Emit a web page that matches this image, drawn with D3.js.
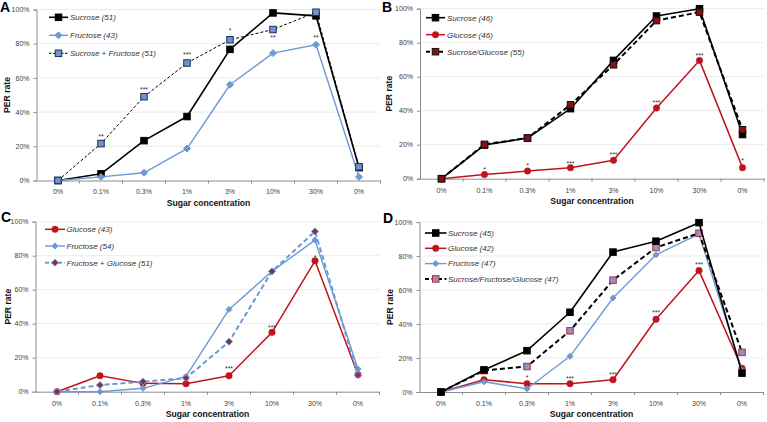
<!DOCTYPE html>
<html><head><meta charset="utf-8">
<script src="https://cdn.jsdelivr.net/npm/d3@7"></script>
<style>
body{margin:0;background:#fff;}
svg{display:block;font-family:Arial,"Liberation Sans",sans-serif;}
</style></head>
<body><svg id="c" width="767" height="422"></svg>
<script>
// ---------- data ----------
const categories = ["0%","0.1%","0.3%","1%","3%","10%","30%","0% "];
const yTicks = [0,20,40,60,80,100];

// Panel A
const A_sucrose  = [0,3.9,23.3,37.4,76.7,98,96.3,7.5];
const A_fructose = [0,2.1,4.5,18.7,56,74.5,79.4,2.1];
const A_sucFru   = [0,21.6,49,68.7,82.3,88.3,98.4,8];
const A_stars    = [["0.1%","**",26.5],["0.3%","***",54.3],["1%","***",74.7],["3%","*",88.7],["10%","**",84.4],["30%","**",84.4]];

// Panel B
const B_sucrose  = [0,19.8,23.9,41.2,69.6,95.7,100,26];
const B_glucose  = [0,2.4,4.5,6.5,10.8,41.6,69.6,6.5];
const B_sucGlu   = [0,20.2,23.9,43.5,67,93,98,28.8];
const B_stars    = [["0.1%","*",6.3],["0.3%","*",8.6],["1%","***",9.8],["3%","***",15],["10%","***",46],["30%","***",73.5],["0% ","*",11.8]];

// Panel C
const C_glucose  = [0,9.4,4.9,4.7,9.4,34.9,77,10];
const C_fructose = [0,0,2,9,48.4,70.8,89.2,13.3];
const C_fruGlu   = [0,3.9,5.9,8,29.4,70.8,94.3,9.8];
const C_stars    = [["3%","***",14.3],["10%","***",38.8],["30%","*",80]];

// Panel D
const D_sucrose  = [0,13,24.3,46.9,82.3,88.7,99.6,11.1];
const D_glucose  = [0,7.2,4.9,4.9,7.2,42.8,71.4,14];
const D_fructose = [0,6,1.9,21,55.3,80.7,93,12.6];
const D_sfg      = [0,12.6,15,36,65.8,85,93.4,23.3];
const D_stars    = [["0.3%","*",9.7],["1%","***",8.8],["3%","***",11.1],["10%","***",47.7],["30%","***",75.9]];

// ---------- styles ----------
const BLACK="#000000", RED="#c0141c", BLUE="#6d9ad4";
const S = {
  sucrose:{stroke:BLACK,width:1.6,dash:null,marker:"square",size:6.5,fill:BLACK,mstroke:BLACK},
  fructose:{stroke:BLUE,width:1.4,dash:null,marker:"diamond",size:6,fill:BLUE,mstroke:BLUE},
  fructoseSmall:{stroke:BLUE,width:1.4,dash:null,marker:"diamond",size:5,fill:BLUE,mstroke:BLUE},
  glucose:{stroke:RED,width:1.5,dash:null,marker:"circle",size:6.5,fill:RED,mstroke:RED},
  sucFru:{stroke:BLACK,width:1,dash:"3,2",marker:"square",size:6.5,fill:"#6f95cc",mstroke:"#1c2f55"},
  sucGlu:{stroke:BLACK,width:2,dash:"5,3",marker:"square",size:6.5,fill:"#8a0f12",mstroke:"#111"},
  fruGlu:{stroke:BLUE,width:2,dash:"5,3",marker:"diamond",size:6,fill:"#8b2a4e",mstroke:BLUE},
  sfg:{stroke:BLACK,width:2,dash:"5,3",marker:"square",size:6.5,fill:"#8f92cc",mstroke:"#c0272d"}
};

const panels = [
  {letter:"A",lx:0,ly:12,x0:36.5,x1:380.5,yT:9.5,yB:180.5,
   series:[["Sucrose (51)",A_sucrose,S.sucrose],["Fructose (43)",A_fructose,S.fructose],["Sucrose + Fructose (51)",A_sucFru,S.sucFru]],
   draw:[0,1,2], stars:A_stars, leg:{x0:49,x1:68,tx:70,y:17.3,dy:18}},
  {letter:"B",lx:382,ly:12,x0:420,x1:764,yT:8.7,yB:178.7,
   series:[["Sucrose (46)",B_sucrose,S.sucrose],["Glucose (46)",B_glucose,S.glucose],["Sucrose/Glucose (55)",B_sucGlu,S.sucGlu]],
   draw:[1,0,2], stars:B_stars, leg:{x0:426,x1:445,tx:447,y:17.7,dy:17}},
  {letter:"C",lx:1,ly:222,x0:35.5,x1:379.5,yT:221.7,yB:391.7,
   series:[["Glucose (43)",C_glucose,S.glucose],["Fructose (54)",C_fructose,S.fructoseSmall],["Fructose + Glucose (51)",C_fruGlu,S.fruGlu]],
   draw:[0,1,2], stars:C_stars, leg:{x0:45,x1:65,tx:66.5,y:229.3,dy:16.7}},
  {letter:"D",lx:383,ly:223,x0:419.5,x1:763.5,yT:222,yB:392,
   series:[["Sucrose (45)",D_sucrose,S.sucrose],["Glucose (42)",D_glucose,S.glucose],["Fructose (47)",D_fructose,S.fructoseSmall],["Sucrose/Fructose/Glucose (47)",D_sfg,S.sfg]],
   draw:[1,2,3,0], stars:D_stars, leg:{x0:425,x1:446.5,tx:448,y:233,dy:15.3}}
];

const svg = d3.select("#c");

function marker(g, x, y, st){
  const s = st.size;
  if(st.marker==="square"){
    g.append("rect").attr("x",x-s/2).attr("y",y-s/2).attr("width",s).attr("height",s)
     .attr("fill",st.fill).attr("stroke",st.mstroke).attr("stroke-width",1);
  } else if(st.marker==="circle"){
    g.append("circle").attr("cx",x).attr("cy",y).attr("r",s/2).attr("fill",st.fill).attr("stroke",st.mstroke).attr("stroke-width",0.5);
  } else {
    const h=s/2+0.5;
    g.append("path").attr("d",`M${x},${y-h}L${x+h},${y}L${x},${y+h}L${x-h},${y}Z`)
     .attr("fill",st.fill).attr("stroke",st.mstroke).attr("stroke-width",1);
  }
}

panels.forEach(p=>{
  const g = svg.append("g");
  const x = d3.scaleBand().domain(categories).range([p.x0,p.x1]);
  const y = d3.scaleLinear().domain([0,100]).range([p.yB,p.yT]);
  const cx = c => x(c)+x.bandwidth()/2;

  // gridlines
  g.append("g").selectAll("line").data(yTicks.filter(t=>t>0)).join("line")
   .attr("x1",p.x0).attr("x2",p.x1).attr("y1",d=>y(d)).attr("y2",d=>y(d))
   .attr("stroke","#e6e6e6").attr("stroke-width",0.8);

  // y axis
  const ya = g.append("g").attr("transform",`translate(${p.x0},0)`)
    .call(d3.axisLeft(y).tickValues(yTicks).tickFormat(d=>d+"%").tickSize(3).tickPadding(4));
  ya.select(".domain").attr("stroke","#8c8c8c");
  ya.selectAll(".tick line").attr("stroke","#8c8c8c");
  ya.selectAll("text").attr("font-size",7).attr("fill","#404040").attr("font-family","Arial,'Liberation Sans',sans-serif");

  // x axis: ticks at band boundaries
  const xa = g.append("g").attr("transform",`translate(0,${p.yB})`)
    .call(d3.axisBottom(x).tickSize(0).tickPadding(9));
  xa.select(".domain").attr("stroke","#8c8c8c");
  xa.selectAll("text").attr("font-size",7).attr("fill","#404040").attr("font-family","Arial,'Liberation Sans',sans-serif");
  const bounds = d3.range(1,categories.length+1).map(i=>p.x0+i*x.bandwidth());
  xa.append("g").selectAll("line").data(bounds).join("line")
    .attr("x1",d=>d).attr("x2",d=>d).attr("y1",0).attr("y2",3).attr("stroke","#8c8c8c");

  // axis titles
  g.append("text").attr("x",(p.x0+p.x1)/2).attr("y",p.yB+25).attr("text-anchor","middle")
   .attr("font-size",8.6).attr("font-weight","bold").attr("fill","#111").text("Sugar concentration");
  g.append("text").attr("transform",`translate(${p.lx+9.5},${(p.yT+p.yB)/2}) rotate(-90)`)
   .attr("text-anchor","middle").attr("font-size",8.6).attr("font-weight","bold").attr("fill","#111").text("PER rate");

  // panel letter
  g.append("text").attr("x",p.lx).attr("y",p.ly).attr("font-size",14).attr("font-weight","bold")
   .attr("fill","#000").text(p.letter);

  // series
  const line = d3.line().x((d,i)=>cx(categories[i])).y(d=>y(d));
  p.draw.forEach(k=>{
    const [name,vals,st] = p.series[k];
    g.append("path").datum(vals).attr("d",line).attr("fill","none")
     .attr("stroke",st.stroke).attr("stroke-width",st.width)
     .attr("stroke-dasharray",st.dash).attr("stroke-linejoin","round");
    vals.forEach((v,i)=>marker(g,cx(categories[i]),y(v),st));
  });

  // stars
  g.append("g").selectAll("text").data(p.stars).join("text")
   .attr("x",d=>cx(d[0])).attr("y",d=>y(d[2])+4).attr("text-anchor","middle")
   .attr("font-size",7).attr("fill","#333").text(d=>d[1]);

  // legend
  p.series.forEach(([name,vals,st],i)=>{
    const yy = p.leg.y + i*p.leg.dy;
    g.append("line").attr("x1",p.leg.x0).attr("x2",p.leg.x1).attr("y1",yy).attr("y2",yy)
     .attr("stroke",st.stroke).attr("stroke-width",st.width)
     .attr("stroke-dasharray",st.dash? (st.width>1.5?"4,2.5":"2.5,1.5"):null);
    marker(g,(p.leg.x0+p.leg.x1)/2,yy,st);
    g.append("text").attr("x",p.leg.tx).attr("y",yy+2.8).attr("font-size",8)
     .attr("font-style","italic").attr("fill","#333").text(name);
  });
});
</script></body></html>
